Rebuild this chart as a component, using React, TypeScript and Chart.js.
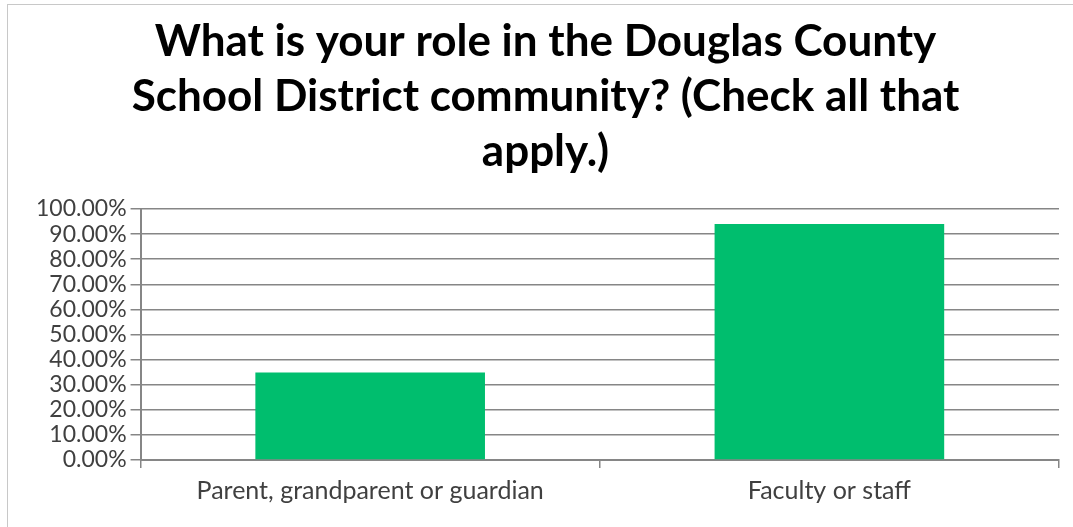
import React, { useEffect, useRef } from "react";
import { Chart, registerables } from "chart.js";

Chart.register(...registerables);

const categories = ["Parent, grandparent or guardian", "Faculty or staff"];
const values = [0.349, 0.94];
const titleLines = [
  "What is your role in the Douglas County",
  "School District community? (Check all that",
  "apply.)",
];

export default function App() {
  const ref = useRef<HTMLCanvasElement | null>(null);
  useEffect(() => {
    if (!ref.current) return;
    const chart = new Chart(ref.current, {
      type: "bar",
      data: {
        labels: categories,
        datasets: [
          {
            data: values,
            backgroundColor: "#00BE6E",
            barPercentage: 0.5,
            categoryPercentage: 1,
          },
        ],
      },
      options: {
        animation: false,
        responsive: false,
        maintainAspectRatio: false,
        layout: { padding: { left: 32, right: 14, top: 8, bottom: 13 } },
        plugins: {
          legend: { display: false },
          tooltip: { enabled: false },
          title: {
            display: true,
            text: titleLines,
            color: "#000",
            font: { family: "Lato", size: 44, weight: "bold", lineHeight: 1.25 },
            padding: { top: 6, bottom: 30 },
          },
        },
        scales: {
          x: {
            grid: {
              offset: true,
              drawOnChartArea: true,
              color: (c: any) => (c.index === 2 ? "#d4d4d4" : "rgba(0,0,0,0)"),
              tickColor: "#868686",
              tickLength: 8,
              lineWidth: 1.5,
            },
            border: { display: true, color: "#868686", width: 2 },
            ticks: {
              color: "#404040",
              font: { family: "Lato", size: 25 },
              padding: 8,
            },
          },
          y: {
            min: 0,
            max: 1,
            grid: {
              color: "#868686",
              lineWidth: 1.5,
              tickLength: 10,
            },
            border: { display: true, color: "#868686", width: 2 },
            ticks: {
              stepSize: 0.1,
              autoSkip: false,
              color: "#404040",
              font: { family: "Lato", size: 23 },
              padding: 4,
              callback: (v: any) => (Number(v) * 100).toFixed(2) + "%",
            },
          },
        },
      },
    });
    return () => chart.destroy();
  }, []);
  return (
    <div
      style={{
        position: "fixed",
        left: 0,
        top: 0,
        width: 1073,
        height: 527,
        background: "#fff",
      }}
    >
      <div
        style={{
          position: "absolute",
          left: 7,
          top: 4,
          width: 1080,
          height: 540,
          borderLeft: "1px solid #c8c8c8",
          borderTop: "1px solid #c8c8c8",
        }}
      />
      <canvas ref={ref} width={1073} height={527} style={{ position: "absolute", left: 0, top: 0 }} />
    </div>
  );
}
